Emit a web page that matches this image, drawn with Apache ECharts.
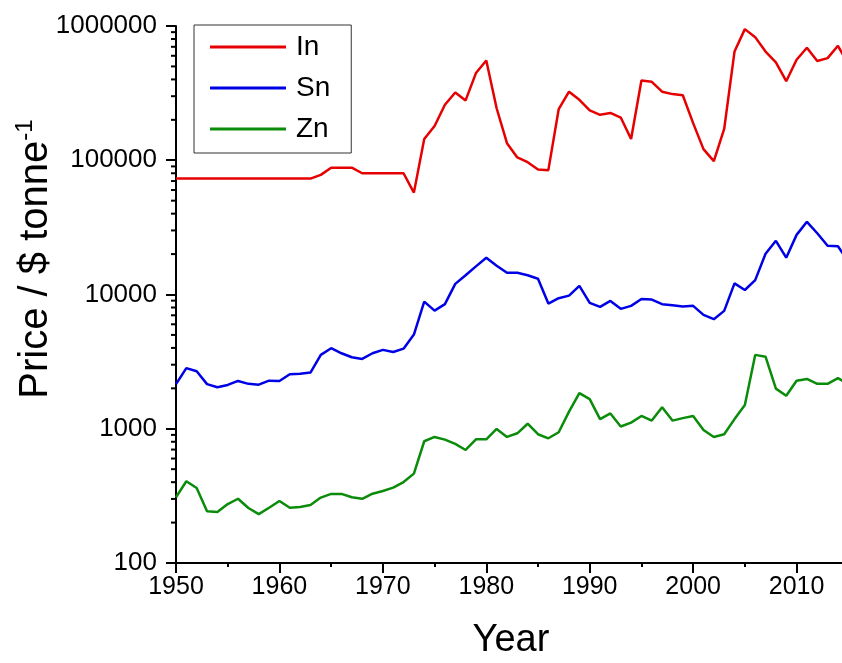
<!DOCTYPE html>
<html>
<head>
<meta charset="utf-8">
<script src="https://cdn.jsdelivr.net/npm/echarts@6/dist/echarts.min.js"></script>
<style>html,body{margin:0;padding:0;background:#fff}#c{width:842px;height:663px}</style>
</head>
<body>
<div id="c"></div>
<script>
const years = [];
for (let y = 1950; y <= 2015; y++) years.push(y);

const inPrice = [73000,73000,73000,73000,73000,73000,73000,73000,73000,73000,73000,73000,73000,73000,
  77800,88000,88000,88000,80000,80000,80000,80000,80000,
  57400,144000,180000,259000,320000,279000,446000,553000,244000,134000,
  105000,96800,85300,84400,240000,324000,282000,235000,218000,225000,
  208000,144000,393000,384000,324000,311000,305000,189000,121000,98500,
  171000,645000,948000,826000,645000,535000,388000,560000,689000,548000,
  576000,712000,520000];

const snPrice = [2150,2830,2680,2150,2040,2120,2270,2160,2130,2280,
  2270,2550,2570,2620,3550,3980,3650,3410,3310,3650,
  3870,3730,3950,5030,8850,7590,8470,12000,13900,16200,
  18800,16400,14500,14500,13900,13100,8560,9380,9810,11600,
  8650,8080,8960,7820,8230,9270,9160,8470,8330,8130,
  8230,7050,6550,7550,12100,10800,12800,20100,25100,18800,
  27800,34800,28600,23100,22900,17500];

const znPrice = [309,406,362,243,240,275,301,257,231,258,
  290,258,261,270,307,327,327,309,301,328,
  344,364,401,463,807,869,830,771,695,835,
  835,997,869,925,1090,910,849,942,1340,1840,
  1660,1180,1300,1040,1110,1245,1150,1445,1150,1200,
  1245,980,869,910,1180,1500,3550,3440,1990,1760,
  2280,2350,2160,2160,2380,2150];

const seriesNames = ['In', 'Sn', 'Zn'];
const yTickValues = [100, 1000, 10000, 100000, 1000000];
const minorMultipliers = [2, 3, 4, 5, 6, 7, 8, 9];

const font = "'Liberation Sans', Arial, sans-serif";
const pairs = arr => years.map((y, i) => [y, arr[i]]);

const minorTickData = [];
for (let k = 0; k < yTickValues.length - 1; k++) {
  minorMultipliers.forEach(m => minorTickData.push([1950, m * yTickValues[k]]));
}

const chart = echarts.init(document.getElementById('c'), null, {renderer: 'canvas'});
chart.setOption({
  animation: false,
  backgroundColor: '#fff',
  grid: {left: 176, top: 26, bottom: 100, right: -58, containLabel: false, outerBoundsMode: 'none'},
  legend: {
    left: 194, top: 25, orient: 'vertical',
    itemWidth: 76, itemHeight: 3, itemGap: 11, icon: 'rect',
    padding: [7, 21, 9, 16],
    borderColor: '#333', borderWidth: 1,
    textStyle: {fontSize: 28, fontFamily: font, color: '#000', lineHeight: 30, padding: [0, 0, 0, 5]},
    data: seriesNames
  },
  xAxis: {
    type: 'value', min: 1950, max: 2020, interval: 10,
    name: 'Year', nameLocation: 'middle', nameGap: 59, nameMoveOverlap: false,
    nameTextStyle: {fontSize: 38, fontFamily: font, color: '#000', padding: [0, 54, 0, 0]},
    axisLine: {show: true, onZero: false, lineStyle: {color: '#000', width: 2}},
    axisTick: {show: true, inside: false, length: 10, lineStyle: {color: '#000', width: 2}},
    minorTick: {show: true, splitNumber: 2, length: 4, lineStyle: {color: '#000', width: 2}},
    axisLabel: {fontSize: 25, fontFamily: font, color: '#000', margin: 12,
      formatter: v => (v <= 2014 ? String(v) : '')},
    splitLine: {show: false}
  },
  yAxis: {
    type: 'log', logBase: 10, min: 100, max: 1000000,
    name: '{a|Price / $ tonne}{b|-1}', nameLocation: 'middle', nameGap: 117, nameRotate: 90,
    nameMoveOverlap: false,
    nameTextStyle: {
      fontFamily: font, color: '#000', padding: [0, 0, 0, 71],
      rich: {
        a: {fontSize: 40, fontFamily: font, color: '#000', lineHeight: 46},
        b: {fontSize: 24, fontFamily: font, color: '#000', verticalAlign: 'top', lineHeight: 24}
      }
    },
    axisLine: {show: true, onZero: false, lineStyle: {color: '#000', width: 2}},
    axisTick: {show: true, inside: false, length: 10, lineStyle: {color: '#000', width: 2}},
    axisLabel: {fontSize: 26, fontFamily: font, color: '#000', margin: 19,
      formatter: v => String(Math.round(v))},
    splitLine: {show: false}
  },
  series: [
    {name: 'In', type: 'line', data: pairs(inPrice), showSymbol: false, symbol: 'none',
      lineStyle: {width: 2.5, color: '#e60000'}, itemStyle: {color: '#e60000'}},
    {name: 'Sn', type: 'line', data: pairs(snPrice), showSymbol: false, symbol: 'none',
      lineStyle: {width: 2.5, color: '#0000e6'}, itemStyle: {color: '#0000e6'}},
    {name: 'Zn', type: 'line', data: pairs(znPrice), showSymbol: false, symbol: 'none',
      lineStyle: {width: 2.5, color: '#0a8c0a'}, itemStyle: {color: '#0a8c0a'}},
    {
      name: 'minorTicks', type: 'custom', data: minorTickData, clip: false, silent: true,
      renderItem: (params, api) => {
        const p = api.coord([api.value(0), api.value(1)]);
        return {type: 'line', shape: {x1: p[0] - 5, y1: p[1], x2: p[0], y2: p[1]},
          style: {stroke: '#000', lineWidth: 2}};
      }
    }
  ]
});
</script>
</body>
</html>
